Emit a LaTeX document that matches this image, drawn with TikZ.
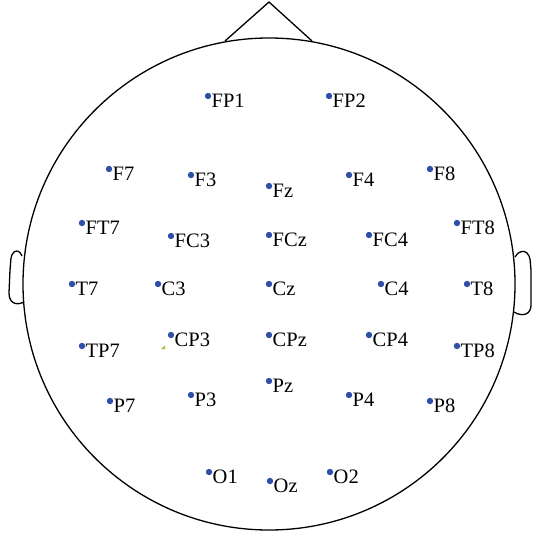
\documentclass[tikz,border=0pt]{standalone}
\usepackage{fontspec}
\setmainfont{Liberation Serif}
\definecolor{dotblue}{HTML}{2E4FA8}
\definecolor{speck}{HTML}{9BC53D}
\tikzset{
  headline/.style={line width=1.3pt, black},
  electrode/.style={circle, fill=dotblue, inner sep=0pt, minimum size=6.4pt},
  elabel/.style={anchor=base west, inner sep=0pt, font=\fontsize{20.5}{23}\selectfont}
}
\begin{document}
\begin{tikzpicture}[x=1pt, y=-1pt]
\useasboundingbox (0,0) rectangle (533,535);
% head
\node[draw=none, inner sep=0pt] (head) at (269,284) {};
\draw[headline] (head.center) circle (246);
% nose
\coordinate (noseL) at (225,41);
\coordinate (noseT) at (269,2);
\coordinate (noseR) at (312,41);
\draw[headline, line join=miter] (noseL) -- (noseT) -- (noseR);
% ears
\draw[headline] (22,256) .. controls (20,251) and (17,250) .. (14,252) .. controls (10,255) and (11,262) .. (10,270) -- (9,293) .. controls (9,303) and (16,306) .. (24,302);
\draw[headline] (515,257) .. controls (518,251) and (524,250) .. (527,253) .. controls (531,257) and (530,262) .. (531,270) -- (531,305) .. controls (531,315) and (522,317) .. (514,312);
% speck
\fill[speck] (161,349) -- (165,345.5) -- (165,349) -- cycle;
% electrodes
\foreach \n/\x/\y in {FP1/208/96, FP2/329/96,
  F7/109/169, F3/191/175, Fz/269/186, F4/349/175, F8/430/169,
  FT7/82/223, FC3/171/236, FCz/269/235, FC4/369/235, FT8/457/223,
  T7/72/284, C3/158/284, Cz/269/284, C4/381/284, T8/467/284,
  TP7/82/346, CP3/171/335, CPz/269/335, CP4/369/335, TP8/457/346,
  P7/110/401, P3/191/395, Pz/269/381, P4/349/395, P8/430/401,
  O1/209/472, Oz/270/481, O2/330/472}{
  \node[electrode] (\n) at (\x,\y) {};
  \node[elabel] (\n-lab) at (\x+3.5,\y+11.5) {\n};
}
\end{tikzpicture}
\end{document}
